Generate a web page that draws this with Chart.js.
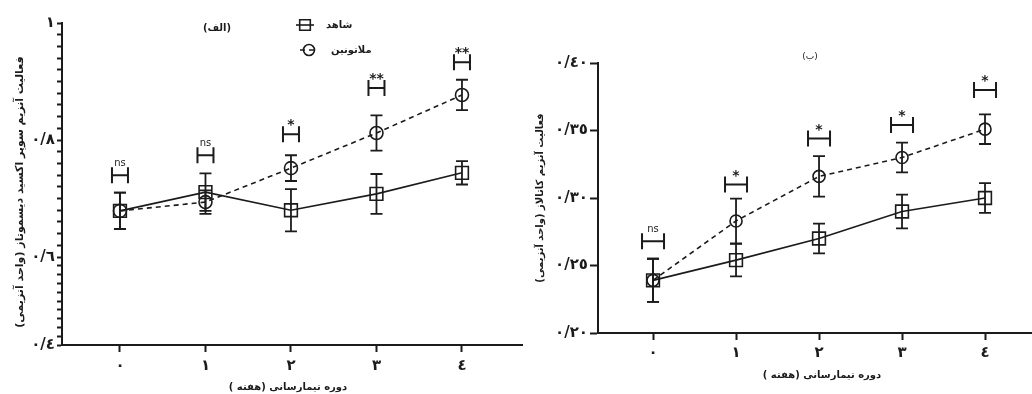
<!DOCTYPE html>
<html lang="fa">
<head>
<meta charset="utf-8">
<script src="https://cdn.jsdelivr.net/npm/chart.js@4.4.1/dist/chart.umd.min.js"></script>
<style>
  html, body { margin: 0; padding: 0; background: #fff; }
  body { width: 1032px; height: 394px; position: relative; overflow: hidden; }
  canvas { position: absolute; top: 0; }
  #sod { left: 0; }
  #cat { left: 525px; }
</style>
</head>
<body>
<canvas id="sod" width="525" height="394"></canvas>
<canvas id="cat" width="507" height="394"></canvas>
<script>
// ---- data ----
const weeks = [0, 1, 2, 3, 4];
const weekLabels = ['٠', '١', '٢', '٣', '٤'];
const seriesNames = ['شاهد', 'ملاتونین'];

// superoxide dismutase activity
const sodControl      = [0.679, 0.711, 0.680, 0.708, 0.744];
const sodControlErr   = [0.031, 0.032, 0.036, 0.034, 0.020];
const sodMelatonin    = [0.679, 0.694, 0.752, 0.812, 0.877];
const sodMelatoninErr = [0.031, 0.020, 0.022, 0.030, 0.026];
const sodSigLevel     = [0.740, 0.774, 0.810, 0.889, 0.933];
const sodSigText      = ['ns', 'ns', '*', '**', '**'];
const sodTicks        = [0.4, 0.6, 0.8, 1.0];
const sodTickLabels   = ['٠/٤', '٠/٦', '٠/٨', '١'];

// catalase activity
const catControl      = [0.239, 0.254, 0.270, 0.290, 0.300];
const catControlErr   = [0.016, 0.012, 0.011, 0.0125, 0.011];
const catMelatonin    = [0.239, 0.283, 0.316, 0.330, 0.351];
const catMelatoninErr = [0.016, 0.0166, 0.015, 0.011, 0.011];
const catSigLevel     = [0.268, 0.310, 0.344, 0.354, 0.380];
const catSigText      = ['ns', '*', '*', '*', '*'];
const catTicks        = [0.20, 0.25, 0.30, 0.35, 0.40];
const catTickLabels   = ['٠/٢٠', '٠/٢٥', '٠/٣٠', '٠/٣٥', '٠/٤٠'];

// ---- styling ----
const ink = '#1b1b1b';
const FONT = "'DejaVu Sans', 'Noto Sans', sans-serif";

// Linear scale whose value range is split into segments of chosen share
class SegmentedScale extends Chart.LinearScale {
  static id = 'segmented';
  _stops() { return this.options.segments || [[this.min, 0], [this.max, 1]]; }
  _toDecimal(v) {
    const s = this._stops();
    for (let i = 1; i < s.length; i++) {
      if (v <= s[i][0] || i === s.length - 1) {
        const [v0, d0] = s[i - 1], [v1, d1] = s[i];
        return d0 + (v - v0) / (v1 - v0) * (d1 - d0);
      }
    }
    return 0;
  }
  _fromDecimal(d) {
    const s = this._stops();
    for (let i = 1; i < s.length; i++) {
      if (d <= s[i][1] || i === s.length - 1) {
        const [v0, d0] = s[i - 1], [v1, d1] = s[i];
        return v0 + (d - d0) / (d1 - d0) * (v1 - v0);
      }
    }
    return this.min;
  }
  getPixelForValue(value) {
    if (value === null || value === undefined) return NaN;
    return this.getPixelForDecimal(this._toDecimal(value));
  }
  getValueForPixel(pixel) {
    return this._fromDecimal(this.getDecimalForPixel(pixel));
  }
}
Chart.register(SegmentedScale);

const points = (xs, ys) => xs.map((x, i) => ({ x, y: ys[i] }));

function seriesDatasets(control, controlErr, melatonin, melatoninErr, sqR, ciR) {
  return [
    {
      label: seriesNames[0], data: points(weeks, control), errors: controlErr,
      borderColor: ink, borderWidth: 1.6, tension: 0, fill: false,
      pointStyle: 'rect', pointRadius: sqR, pointBorderWidth: 1.6,
      pointBorderColor: ink, pointBackgroundColor: 'rgba(0,0,0,0)'
    },
    {
      label: seriesNames[1], data: points(weeks, melatonin), errors: melatoninErr,
      borderColor: ink, borderWidth: 1.6, borderDash: [5, 4], tension: 0, fill: false,
      pointStyle: 'circle', pointRadius: ciR, pointBorderWidth: 1.6,
      pointBorderColor: ink, pointBackgroundColor: 'rgba(0,0,0,0)'
    }
  ];
}

// mean ± error whiskers
const errorBars = {
  id: 'errorBars',
  afterDatasetsDraw(chart) {
    const { ctx } = chart, ys = chart.scales.y;
    ctx.save();
    ctx.strokeStyle = ink;
    ctx.lineWidth = 1.8;
    chart.data.datasets.forEach((ds, di) => {
      const meta = chart.getDatasetMeta(di);
      meta.data.forEach((pt, i) => {
        const v = ds.data[i].y, e = ds.errors[i];
        const top = ys.getPixelForValue(v + e), bot = ys.getPixelForValue(v - e);
        ctx.beginPath();
        ctx.moveTo(pt.x, top); ctx.lineTo(pt.x, bot);
        ctx.moveTo(pt.x - 6, top); ctx.lineTo(pt.x + 6, top);
        ctx.moveTo(pt.x - 6, bot); ctx.lineTo(pt.x + 6, bot);
        ctx.stroke();
      });
    });
    ctx.restore();
  }
};

// significance brackets between the two groups at each week
function sigMarks(levels, texts, halfW, halfH) {
  return {
    id: 'sigMarks',
    afterDatasetsDraw(chart) {
      const { ctx } = chart, xs = chart.scales.x, ys = chart.scales.y;
      ctx.save();
      ctx.strokeStyle = ink; ctx.fillStyle = ink; ctx.lineWidth = 2;
      ctx.textAlign = 'center'; ctx.textBaseline = 'alphabetic';
      levels.forEach((lv, i) => {
        const cx = xs.getPixelForValue(weeks[i]), cy = ys.getPixelForValue(lv);
        ctx.beginPath();
        ctx.moveTo(cx - halfW, cy - halfH); ctx.lineTo(cx - halfW, cy + halfH);
        ctx.moveTo(cx + halfW, cy - halfH); ctx.lineTo(cx + halfW, cy + halfH);
        ctx.moveTo(cx - halfW, cy); ctx.lineTo(cx + halfW, cy);
        ctx.stroke();
        if (texts[i] === 'ns') {
          ctx.font = '10px ' + FONT;
          ctx.fillText('ns', cx, cy - halfH - 1);
        } else {
          ctx.font = 'bold 14px ' + FONT;
          ctx.fillText(texts[i], cx, cy - halfH + 3);
        }
      });
      ctx.restore();
    }
  };
}

// panel captions, axis titles and legend
function captions(items, legend) {
  return {
    id: 'captions',
    afterDraw(chart) {
      const { ctx } = chart;
      ctx.save();
      ctx.fillStyle = ink;
      ctx.direction = 'rtl';
      items.forEach(t => {
        ctx.save();
        ctx.font = t.font + ' ' + FONT;
        ctx.textAlign = t.align || 'center';
        ctx.textBaseline = 'middle';
        ctx.translate(t.x, t.y);
        if (t.rotate) ctx.rotate(t.rotate);
        ctx.fillText(t.text, 0, 0);
        ctx.restore();
      });
      if (legend) {
        chart.data.datasets.forEach((ds, i) => {
          const row = legend.rows[i];
          ctx.save();
          ctx.strokeStyle = ds.borderColor;
          ctx.fillStyle = 'rgba(0,0,0,0)';
          ctx.lineWidth = 1.6;
          ctx.setLineDash(ds.borderDash || []);
          ctx.beginPath();
          ctx.moveTo(row.mx - 9, row.y); ctx.lineTo(row.mx + 9, row.y);
          ctx.stroke();
          ctx.setLineDash([]);
          Chart.helpers.drawPoint(ctx, {
            pointStyle: ds.pointStyle, borderWidth: 1.6, radius: ds.pointStyle === 'rect' ? 7.5 : 5.5
          }, row.mx, row.y);
          ctx.restore();
          ctx.font = 'bold 10px ' + FONT;
          ctx.textAlign = 'left';
          ctx.textBaseline = 'middle';
          ctx.direction = 'ltr';
          ctx.fillText(ds.label, row.tx, row.y);
        });
      }
      ctx.restore();
    }
  };
}

function axisX(min, max, height, pad) {
  return {
    type: 'linear', min, max,
    afterBuildTicks: s => { s.ticks = weeks.map(v => ({ value: v })); },
    afterFit: s => { s.height = height; s.paddingLeft = 0; s.paddingRight = 0; },
    border: { display: true, color: ink, width: 2 },
    grid: { drawOnChartArea: false, drawTicks: true, tickLength: 7, tickColor: ink, tickWidth: 2 },
    ticks: {
      autoSkip: false, maxRotation: 0, padding: pad, color: ink,
      font: { family: FONT, size: 15, weight: 'bold' },
      callback: v => weekLabels[weeks.indexOf(v)]
    }
  };
}

function labelFor(ticks, labels) {
  return v => {
    const i = ticks.findIndex(t => Math.abs(t - v) < 1e-6);
    return i < 0 ? '' : labels[i];
  };
}

const baseOptions = {
  responsive: false, animation: false, events: [],
  plugins: { legend: { display: false }, tooltip: { enabled: false } }
};

// left panel: superoxide dismutase
const sodMinor = [];
for (let k = 0; k <= 30; k++) sodMinor.push(+(0.4 + k * 0.02).toFixed(2));

new Chart(document.getElementById('sod'), {
  type: 'line',
  data: { datasets: seriesDatasets(sodControl, sodControlErr, sodMelatonin, sodMelatoninErr, 9, 6.5) },
  options: {
    ...baseOptions,
    layout: { autoPadding: false, padding: { top: 23, right: 3, bottom: 0, left: 0 } },
    scales: {
      x: axisX(-0.678, 4.702, 49, 5),
      y: {
        type: 'segmented', min: 0.4, max: 1.0,
        segments: [[0.4, 0], [0.6, 0.273], [1.0, 1]],
        afterBuildTicks: s => { s.ticks = sodMinor.map(v => ({ value: v })); },
        afterFit: s => { s.width = 62; },
        border: { display: true, color: ink, width: 2 },
        grid: { drawOnChartArea: false, drawTicks: true, tickLength: 5, tickColor: ink, tickWidth: 2 },
        ticks: {
          autoSkip: false, padding: 2, color: ink,
          font: { family: FONT, size: 15, weight: 'bold' },
          callback: labelFor(sodTicks, sodTickLabels)
        }
      }
    }
  },
  plugins: [
    errorBars,
    sigMarks(sodSigLevel, sodSigText, 8, 8),
    captions([
      { text: 'فعالیت آنزیم سوپر اکسید دیسموتاز (واحد آنزیمی)', x: 20, y: 192, rotate: -Math.PI / 2, font: 'bold 11px' },
      { text: 'دوره تیمارسانی (هفته )', x: 288, y: 387, font: 'bold 10px' },
      { text: '(الف)', x: 217, y: 28, font: 'bold 10px' }
    ], { rows: [ { mx: 305, tx: 326, y: 25 }, { mx: 309, tx: 331, y: 50 } ] })
  ]
});

// right panel: catalase
new Chart(document.getElementById('cat'), {
  type: 'line',
  data: { datasets: seriesDatasets(catControl, catControlErr, catMelatonin, catMelatoninErr, 9, 6) },
  options: {
    ...baseOptions,
    layout: { autoPadding: false, padding: { top: 63, right: 0, bottom: 0, left: 0 } },
    scales: {
      x: axisX(-0.663, 4.566, 61, 4),
      y: {
        type: 'linear', min: 0.2, max: 0.4,
        afterBuildTicks: s => { s.ticks = catTicks.map(v => ({ value: v })); },
        afterFit: s => { s.width = 73; },
        border: { display: true, color: ink, width: 2 },
        grid: { drawOnChartArea: false, drawTicks: true, tickLength: 8, tickColor: ink, tickWidth: 2 },
        ticks: {
          autoSkip: false, padding: 2, color: ink,
          font: { family: FONT, size: 15, weight: 'bold' },
          callback: labelFor(catTicks, catTickLabels)
        }
      }
    }
  },
  plugins: [
    errorBars,
    sigMarks(catSigLevel, catSigText, 11, 8),
    captions([
      { text: 'فعالیت آنزیم کاتالاز (واحد آنزیمی)', x: 15, y: 198, rotate: -Math.PI / 2, font: 'bold 10px' },
      { text: 'دوره تیمارسانی (هفته )', x: 297, y: 375, font: 'bold 10px' },
      { text: '(ب)', x: 285, y: 57, font: '9px' }
    ], null)
  ]
});
</script>
</body>
</html>
